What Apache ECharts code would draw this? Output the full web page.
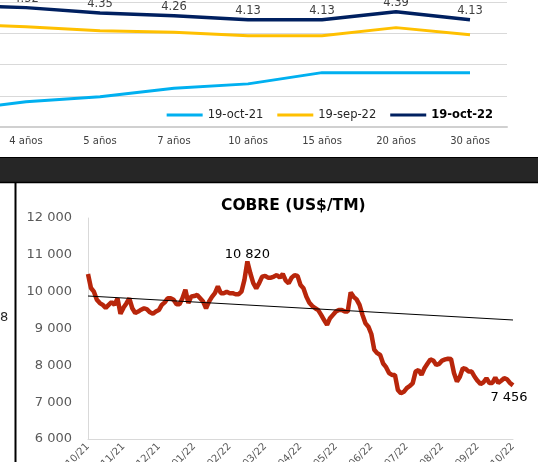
<!DOCTYPE html>
<html>
<head>
<meta charset="utf-8">
<script src="https://cdn.jsdelivr.net/npm/echarts@6/dist/echarts.min.js"></script>
<style>
  html, body { margin: 0; padding: 0; background: #fff; }
  #chart { width: 538px; height: 462px; }
</style>
</head>
<body>
<div id="chart"></div>
<script>
// curva de rendimientos (parte superior, recortada)
const plazos = ['3 años', '4 años', '5 años', '7 años', '10 años', '15 años', '20 años', '30 años']
const curvaOct21 = [1.20, 1.51, 1.67, 1.94, 2.08, 2.44, 2.44, 2.44]
const curvaSep22 = [4.00, 3.91, 3.78, 3.73, 3.62, 3.62, 3.88, 3.65]
const curvaOct22 = [4.59, 4.52, 4.35, 4.26, 4.13, 4.13, 4.39, 4.13]

// cobre US$/TM, 19/10/21 - 19/10/22
const meses = ['19/10/21', '19/11/21', '19/12/21', '19/01/22', '19/02/22', '19/03/22', '19/04/22',
  '19/05/22', '19/06/22', '19/07/22', '19/08/22', '19/09/22', '19/10/22']
const cobre = [
  10480, 10100, 10000, 9780, 9690, 9640, 9560, 9640, 9720, 9640, 9820, 9400,
  9560, 9680, 9820, 9550, 9420, 9460, 9510, 9550, 9520, 9440, 9400, 9460,
  9500, 9640, 9710, 9820, 9820, 9780, 9660, 9660, 9820, 10050, 9690, 9870,
  9880, 9910, 9820, 9730, 9550, 9730, 9860, 9960, 10140, 9960, 9960, 10000,
  9960, 9960, 9930, 9930, 10000, 10320, 10820, 10500, 10230, 10090, 10230, 10410,
  10430, 10380, 10380, 10410, 10450, 10380, 10480, 10300, 10230, 10380, 10450, 10430,
  10180, 10090, 9860, 9700, 9610, 9550, 9500, 9370, 9230, 9100, 9280, 9370,
  9460, 9500, 9500, 9460, 9460, 9980, 9860, 9790, 9640, 9370, 9140, 9050,
  8850, 8420, 8330, 8280, 8050, 7950, 7790, 7740, 7740, 7330, 7240, 7280,
  7380, 7440, 7510, 7830, 7870, 7740, 7920, 8040, 8160, 8130, 8010, 8040,
  8130, 8160, 8180, 8170, 7790, 7560, 7690, 7920, 7900, 7830, 7830, 7690,
  7580, 7490, 7540, 7650, 7520, 7520, 7670, 7520, 7580, 7650, 7620, 7520,
  7456
]
const tendencia = [9882, 9231]
const pasoMes = 12

const font = 'DejaVu Sans'
const fmtMiles = v => String(v).replace(/\B(?=(\d{3})+(?!\d))/g, ' ')

const idxMax = cobre.indexOf(Math.max(...cobre))
const idxUlt = cobre.length - 1
const cobreData = cobre.map((v, i) => {
  if (i === idxMax) return { value: v, label: { show: true, position: 'top', distance: 0 } }
  if (i === idxUlt) return { value: v, label: { show: true, position: 'bottom', distance: 6, offset: [-4, 0] } }
  return v
})

const chart = echarts.init(document.getElementById('chart'))
chart.setOption({
  backgroundColor: '#fff',
  animation: false,
  textStyle: { fontFamily: font },
  title: {
    text: 'COBRE (US$/TM)',
    left: 216, top: 193,
    textStyle: { fontFamily: font, fontSize: 15.5, fontWeight: 'bold', color: '#000' }
  },
  legend: {
    right: 40, top: 104,
    icon: 'rect', itemWidth: 36, itemHeight: 3, itemGap: 14,
    textStyle: { fontFamily: font, fontSize: 11.5, color: '#262626' },
    data: [
      { name: '19-oct-21' },
      { name: '19-sep-22' },
      { name: '19-oct-22', textStyle: { fontWeight: 'bold', color: '#000' } }
    ]
  },
  grid: [
    { left: -85, right: 31, top: 2, bottom: 335, outerBoundsMode: 'none' },
    { left: 88, right: 25, top: 218, bottom: 23, outerBoundsMode: 'none' }
  ],
  xAxis: [
    {
      gridIndex: 0, type: 'category', data: plazos, boundaryGap: true,
      axisLine: { lineStyle: { color: '#d0d0d0', width: 2 } },
      axisTick: { show: false },
      axisLabel: { fontFamily: font, fontSize: 10, color: '#404040', margin: 9 }
    },
    {
      gridIndex: 1, type: 'category', boundaryGap: false,
      data: cobre.map((v, i) => String(i)),
      axisLine: { lineStyle: { color: '#d9d9d9', width: 1 } },
      axisTick: { show: false },
      axisLabel: {
        interval: pasoMes - 1, rotate: 45, margin: 6,
        fontFamily: font, fontSize: 10, color: '#595959',
        formatter: (v, i) => meses[Math.round(i / pasoMes)] || ''
      }
    }
  ],
  yAxis: [
    {
      gridIndex: 0, type: 'value', min: 0.7, max: 4.7, interval: 1,
      axisLine: { show: false }, axisTick: { show: false }, axisLabel: { show: false },
      splitLine: { lineStyle: { color: '#d9d9d9', width: 1 } }
    },
    {
      gridIndex: 1, type: 'value', min: 6000, max: 12000, interval: 1000,
      axisLine: { show: true, lineStyle: { color: '#d9d9d9', width: 1 } },
      axisTick: { show: false },
      splitLine: { show: false },
      axisLabel: { fontFamily: font, fontSize: 13, color: '#595959', margin: 16, formatter: fmtMiles }
    }
  ],
  series: [
    {
      name: '19-oct-21', type: 'line', xAxisIndex: 0, yAxisIndex: 0,
      data: curvaOct21, symbol: 'none', lineStyle: { color: '#00b0f0', width: 3 }, itemStyle: { color: '#00b0f0' }
    },
    {
      name: '19-sep-22', type: 'line', xAxisIndex: 0, yAxisIndex: 0,
      data: curvaSep22, symbol: 'none', lineStyle: { color: '#ffc000', width: 3 }, itemStyle: { color: '#ffc000' }
    },
    {
      name: '19-oct-22', type: 'line', xAxisIndex: 0, yAxisIndex: 0,
      data: curvaOct22, symbol: 'circle', symbolSize: 0, showSymbol: true,
      lineStyle: { color: '#002060', width: 3.5 }, itemStyle: { color: '#002060' },
      label: {
        show: true, position: 'top', distance: 3,
        fontFamily: font, fontSize: 11.5, color: '#404040',
        formatter: p => p.value.toFixed(2)
      }
    },
    {
      name: 'Cobre', type: 'line', xAxisIndex: 1, yAxisIndex: 1,
      data: cobreData, symbol: 'circle', symbolSize: 0, showSymbol: true,
      lineStyle: { color: '#b8260b', width: 4.5 }, itemStyle: { color: '#b8260b' },
      label: { show: false, fontFamily: font, fontSize: 13, color: '#000', formatter: p => fmtMiles(p.value) },
      markLine: {
        silent: true, symbol: 'none',
        label: { show: false },
        lineStyle: { color: '#000', width: 1, type: 'solid' },
        data: [[{ coord: ['0', tendencia[0]] }, { coord: [String(idxUlt), tendencia[1]] }]]
      }
    }
  ],
  graphic: [
    { type: 'rect', shape: { x: 0, y: 157, width: 538, height: 26 }, style: { fill: '#262626' }, z: 10 },
    { type: 'line', shape: { x1: 0, y1: 157.5, x2: 538, y2: 157.5 }, style: { stroke: '#000', lineWidth: 1 }, z: 11 },
    { type: 'line', shape: { x1: 0, y1: 182.5, x2: 538, y2: 182.5 }, style: { stroke: '#000', lineWidth: 1.5 }, z: 11 },
    { type: 'line', shape: { x1: 15.5, y1: 183, x2: 15.5, y2: 462 }, style: { stroke: '#000', lineWidth: 2 }, z: 11 },
    { type: 'text', x: 0, y: 311, style: { text: '8', fontFamily: font, fontSize: 13, fill: '#262626' }, z: 11 }
  ]
})
</script>
</body>
</html>
